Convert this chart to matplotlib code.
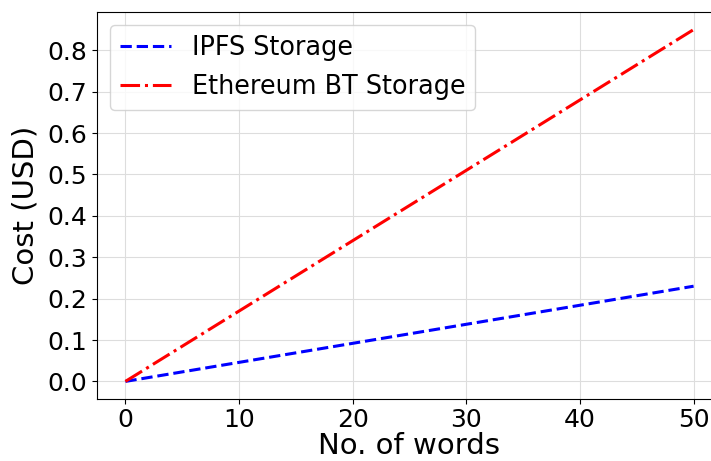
import matplotlib
matplotlib.use("Agg")
import matplotlib.pyplot as plt

words = [0, 10, 20, 30, 40, 50]
ipfs_cost = [0.0, 0.046, 0.092, 0.138, 0.184, 0.23]
eth_cost = [0.0, 0.17, 0.34, 0.51, 0.68, 0.85]
yticks = [0.0, 0.1, 0.2, 0.3, 0.4, 0.5, 0.6, 0.7, 0.8]

fig = plt.figure(figsize=(7.11, 4.61), dpi=100)
ax = fig.add_axes([97/711, 62/461, 625/711, 387/461])
ax.plot(words, ipfs_cost, color="blue", linestyle="--", linewidth=2.2, label="IPFS Storage")
ax.plot(words, eth_cost, color="red", linestyle="-.", linewidth=2.2, label="Ethereum BT Storage")
ax.set_yticks(yticks)
ax.tick_params(labelsize=18)
ax.tick_params(axis="x", pad=3)
ax.set_xlabel("No. of words", fontsize=21, labelpad=0)
ax.set_ylabel("Cost (USD)", fontsize=21, labelpad=6)
ax.grid(True, color="#dddddd", linewidth=0.8)
ax.legend(fontsize=18.4, loc="upper left")
fig.savefig("out.png", dpi=100)
